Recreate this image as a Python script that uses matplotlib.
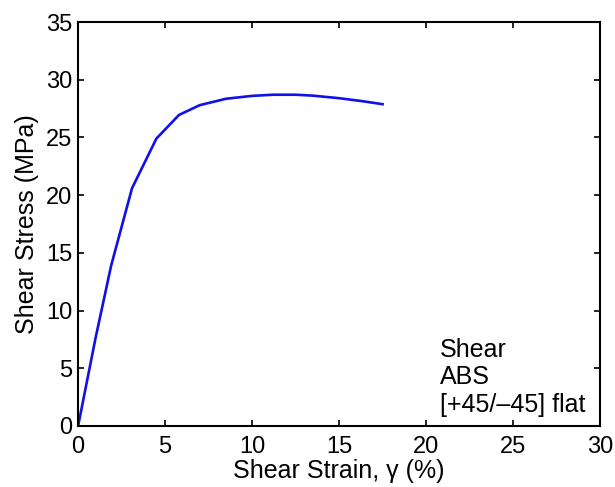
import matplotlib
matplotlib.use("Agg")
import matplotlib.pyplot as plt

strain = [0, 1.0, 1.9, 3.1, 4.5, 5.8, 7.0, 8.5, 10.0, 11.2, 12.5, 13.5, 15.0, 16.3, 17.5]
stress = [0, 7.6, 13.9, 20.6, 24.9, 26.95, 27.8, 28.35, 28.6, 28.7, 28.7, 28.62, 28.4, 28.15, 27.88]

label_lines = ["Shear", "ABS", "[+45/\u201345] flat"]

plt.rcParams['font.family'] = ['Liberation Sans', 'DejaVu Sans']

fig = plt.figure(figsize=(6.15, 4.87), dpi=100)
ax = fig.add_axes([0.127, 0.1253, 0.8486, 0.8295])

ax.plot(strain, stress, color='#1010e8', linewidth=1.9)

ax.set_xlim(0, 30)
ax.set_ylim(0, 35)
ax.set_xticks(range(0, 31, 5))
ax.set_yticks(range(0, 36, 5))
ax.tick_params(direction='in', top=True, right=True, length=4, width=1.2,
               labelsize=17)
ax.tick_params(axis='x', pad=7)
ax.tick_params(axis='y', pad=4)
for s in ax.spines.values():
    s.set_linewidth(1.5)

ax.set_xlabel("Shear Strain, \u03b3 (%)", fontsize=18, labelpad=1)
ax.set_ylabel("Shear Stress (MPa)", fontsize=18, labelpad=5)

ax.text(20.8, 1.2, "\n".join(label_lines), fontsize=18, ha='left', va='baseline',
        linespacing=1.2)

fig.savefig("out.png", dpi=100)
